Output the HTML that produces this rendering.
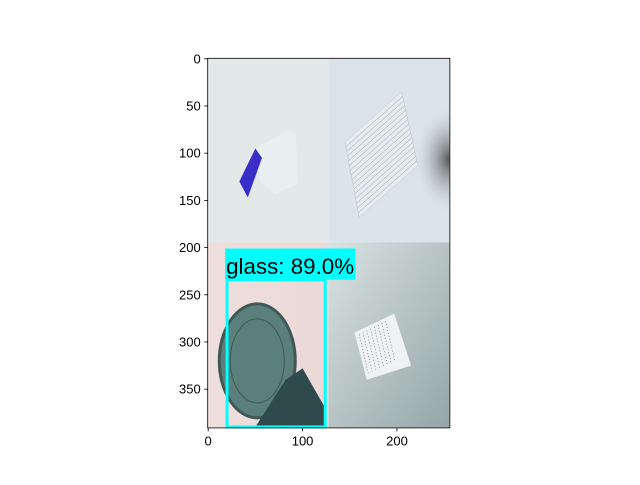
<!DOCTYPE html>
<html><head><meta charset="utf-8"><style>
body{margin:0;background:#fff;}
svg text{font-family:"Liberation Sans",sans-serif;}
</style></head><body>
<svg id="c" width="640" height="480" xmlns="http://www.w3.org/2000/svg">
<defs>
<radialGradient id="shadow" cx="1" cy="0.55" r="0.3"><stop offset="0" stop-color="#555"/><stop offset="1" stop-color="#d9e3e8" stop-opacity="0"/></radialGradient>
<linearGradient id="brg" x1="0" x2="1" y1="0" y2="1"><stop offset="0" stop-color="#d9e2e2"/><stop offset="1" stop-color="#95a6a6"/></linearGradient>
<linearGradient id="blg" x1="0" x2="1"><stop offset="0" stop-color="#efdfdc"/><stop offset="1" stop-color="#ead9d8"/></linearGradient>
</defs>
<g id="img"></g>
<g id="axes"></g>
</svg>
<script>
const xTicks=[0,100,200];
const yTicks=[0,50,100,150,200,250,300,350];
const imgW=256, imgH=391;
const boxX=[20,124], boxY=[234,390];
const labelText="glass: 89.0%";
const L=207.7,T=58.3,S=0.944;
const px=x=>L+(x+0.5)*S, py=y=>T+(y+0.5)*S;
const NS="http://www.w3.org/2000/svg";
function mk(p,tag,a){const e=document.createElementNS(NS,tag);for(const k in a)e.setAttribute(k,a[k]);p.appendChild(e);return e;}
const img=document.getElementById('img'), ax=document.getElementById('axes');
const mx=px(127.5), my=py(194.5), R=px(imgW-0.5), B=py(imgH-0.5);
let e;
e=mk(img,'rect',{x:L,y:T,width:mx-L,height:my-T,fill:'#e3e9e8'});

e=mk(img,'rect',{x:mx,y:T,width:R-mx,height:my-T,fill:'#dae4ea'});

mk(img,'rect',{x:mx,y:T,width:R-mx,height:my-T,fill:'url(#shadow)'});
e=mk(img,'rect',{x:L,y:my,width:mx-L,height:B-my,fill:'url(#blg)'});

e=mk(img,'rect',{x:mx,y:my,width:R-mx,height:B-my,fill:'url(#brg)'});

mk(img,'polygon',{points:`${px(50)},${py(95)} ${px(85)},${py(75)} ${px(93)},${py(80)} ${px(95)},${py(133)} ${px(70)},${py(143)} ${px(55)},${py(130)}`,fill:'#e9eef0'});
mk(img,'polygon',{points:`${px(33)},${py(130)} ${px(50)},${py(95)} ${px(57)},${py(105)} ${px(42)},${py(147)}`,fill:'#3a2ec8'});
mk(img,'polygon',{points:`${px(145)},${py(88)} ${px(205)},${py(35)} ${px(222)},${py(113)} ${px(160)},${py(168)}`,fill:'#e4ecef',stroke:'#aab',"stroke-width":0.3});
for(let i=1;i<16;i++){const t=i/16;mk(img,'line',{x1:px(145+15*t),y1:py(88+80*t),x2:px(205+17*t),y2:py(35+78*t),stroke:'#999',"stroke-width":0.5});}
mk(img,'polygon',{points:`${px(155)},${py(290)} ${px(197)},${py(270)} ${px(215)},${py(325)} ${px(168)},${py(340)}`,fill:'#eef2f2'});
for(let i=0;i<8;i++){mk(img,'line',{x1:px(160+4*i),y1:py(292-2*i),x2:px(170+4*i),y2:py(335-2*i),stroke:'#555',"stroke-width":0.6,"stroke-dasharray":'1 2'});}
mk(img,'ellipse',{cx:px(52),cy:py(320),rx:38,ry:57,fill:'#5b7f7b',stroke:'#3f5855',"stroke-width":3});
mk(img,'ellipse',{cx:px(52),cy:py(320),rx:27,ry:42,fill:'none',stroke:'#3f5855',"stroke-width":1});
mk(img,'polygon',{points:`${px(82)},${py(340)} ${px(100)},${py(328)} ${px(124)},${py(370)} ${px(124)},${py(390)} ${px(50)},${py(390)}`,fill:'#2f4a4d'});
e=mk(img,'rect',{x:px(boxX[0]),y:py(boxY[0]),width:px(boxX[1])-px(boxX[0]),height:py(boxY[1])-py(boxY[0]),fill:'none',stroke:'#00ffff',"stroke-width":3});

e=mk(img,'rect',{x:px(18),y:py(201),width:px(156)-px(18),height:py(234)-py(201),fill:'#00ffff'});

e=mk(img,'text',{x:px(19),y:py(228),"font-size":22,fill:'#000',textLength:128,lengthAdjust:'spacingAndGlyphs'});e.textContent=labelText;

e=mk(ax,'rect',{x:L,y:T,width:R-L+0.5,height:B-T+0.5,fill:'none',stroke:'#000',"stroke-width":0.8});

xTicks.forEach(v=>{const x=px(v);mk(ax,'line',{x1:x,x2:x,y1:B+0.5,y2:B+4,stroke:'#000',"stroke-width":0.8});
const t=mk(ax,'text',{x:x,y:B+18,"font-size":13,"text-anchor":'middle'});t.textContent=v;
});
yTicks.forEach(v=>{const y=py(v);mk(ax,'line',{x1:L-3.5,x2:L,y1:y,y2:y,stroke:'#000',"stroke-width":0.8});
const t=mk(ax,'text',{x:L-7,y:y+4.5,"font-size":13,"text-anchor":'end'});t.textContent=v;
});
</script>
</body></html>
